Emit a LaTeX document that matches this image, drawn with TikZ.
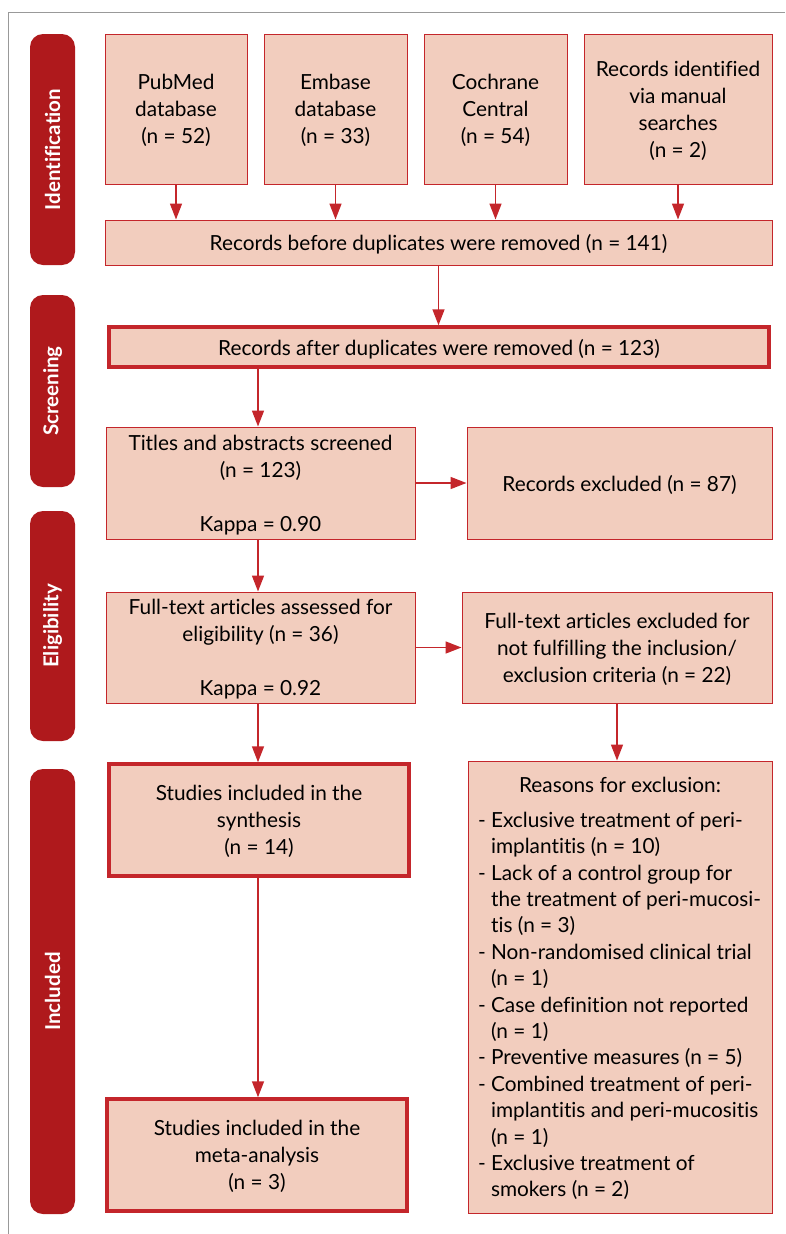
\documentclass[tikz,border=0pt]{standalone}
\usepackage{fontspec}
\setmainfont[Ligatures=NoCommon]{Lato}
\usepackage{tikz}
\usetikzlibrary{arrows.meta}
\definecolor{peach}{HTML}{F2CDBE}
\definecolor{brick}{HTML}{C4262B}
\definecolor{darkbrick}{HTML}{AF191C}
\newcommand{\contind}{\hphantom{- }}

\begin{document}
\begin{tikzpicture}[x=1pt, y=-1pt,
  every node/.style={font=\fontsize{20.8}{27}\selectfont},
  box/.style={draw=brick, fill=peach, line width=1pt, align=center, inner sep=0pt, text depth=0pt},
  boldbox/.style={box, line width=3.5pt},
  phase/.style={fill=darkbrick, rounded corners=13pt, minimum height=45,
    text=white, font=\fontsize{20.5}{22}\selectfont\bfseries, rotate=90},
  arr/.style={draw=brick, line width=1.6pt, -{Triangle[width=12pt,length=16pt]}}]
  \useasboundingbox (0,0) rectangle (785,1234);
  \draw[gray!80, line width=1pt] (8,1234) -- (8,12) -- (785,12);

  \foreach \name/\y/\len/\txt in {ident/149.5/231/Identification, screen/391/192/Screening,
                                  elig/626/230/Eligibility, incl/991.5/445/Included} {
    \node[phase, minimum width=\len] (\name) at (52.5,\y) {\txt};
  }

  \node[box, minimum width=142, minimum height=150] (pubmed) at (176,109)
    {PubMed\\database\\(n = 52)};
  \node[box, minimum width=143, minimum height=150] (embase) at (335.5,109)
    {Embase\\database\\(n = 33)};
  \node[box, minimum width=143, minimum height=150] (cochrane) at (495.5,109)
    {Cochrane\\Central\\(n = 54)};
  \node[box, minimum width=188, minimum height=150] (manual) at (678,109)
    {Records identified\\via manual\\searches\\(n = 2)};
  \node[box, minimum width=667, minimum height=45] (before) at (438.5,242.5)
    {Records before duplicates were removed (n = 141)};
  \node[boldbox, minimum width=660, minimum height=40] (after) at (439,347)
    {Records after duplicates were removed (n = 123)};

  \node[box, minimum width=309, minimum height=112] (titles) at (260.5,483)
    {Titles and abstracts screened\\(n = 123)\\[27pt]Kappa = 0.90};
  \node[box, minimum width=305, minimum height=112] (recexcl) at (619.5,483)
    {Records excluded (n = 87)};
  \node[box, minimum width=309, minimum height=111] (fulltext) at (260.5,647.5)
    {Full-text articles assessed for\\eligibility (n = 36)\\[27pt]Kappa = 0.92};
  \node[box, minimum width=310, minimum height=111] (ftexcl) at (617,647.5)
    {Full-text articles excluded for\\not fulfilling the inclusion/\\exclusion criteria (n = 22)};

  \node[boldbox, minimum width=300, minimum height=112] (synth) at (259,820)
    {Studies included in the\\synthesis\\(n = 14)};
  \node[boldbox, minimum width=300, minimum height=112] (meta) at (257,1155)
    {Studies included in the\\meta-analysis\\(n = 3)};
  \node[box, minimum width=304, minimum height=452, align=left,
        font=\fontsize{20.8}{26.4}\selectfont] (reasons) at (620,987)
    {\makebox[284pt]{Reasons for exclusion:}\\[8.6pt]
     - Exclusive treatment of peri-\\
     \contind implantitis (n = 10)\\
     - Lack of a control group for\\
     \contind the treatment of peri-mucosi-\\
     \contind tis (n = 3)\\
     - Non-randomised clinical trial\\
     \contind (n = 1)\\
     - Case definition not reported\\
     \contind (n = 1)\\
     - Preventive measures (n = 5)\\
     - Combined treatment of peri-\\
     \contind implantitis and peri-mucositis\\
     \contind (n = 1)\\
     - Exclusive treatment of\\
     \contind smokers (n = 2)};

  \coordinate (spine) at (258,0);
  \foreach \src in {pubmed, embase, cochrane, manual} {
    \draw[arr] (\src.south) -- (\src.south |- before.north);
  }
  \draw[arr] (before.south) -- (before.south |- after.north);
  \draw[arr] (after.south -| spine) -- (titles.north -| spine);
  \draw[arr] (titles.east) -- (recexcl.west);
  \draw[arr] (titles.south -| spine) -- (fulltext.north -| spine);
  \draw[arr] (fulltext.east) -- (ftexcl.west);
  \draw[arr] (ftexcl.south) -- (ftexcl.south |- reasons.north);
  \draw[arr] (fulltext.south -| spine) -- (synth.north -| spine);
  \draw[arr] (synth.south -| spine) -- (meta.north -| spine);
\end{tikzpicture}
\end{document}
